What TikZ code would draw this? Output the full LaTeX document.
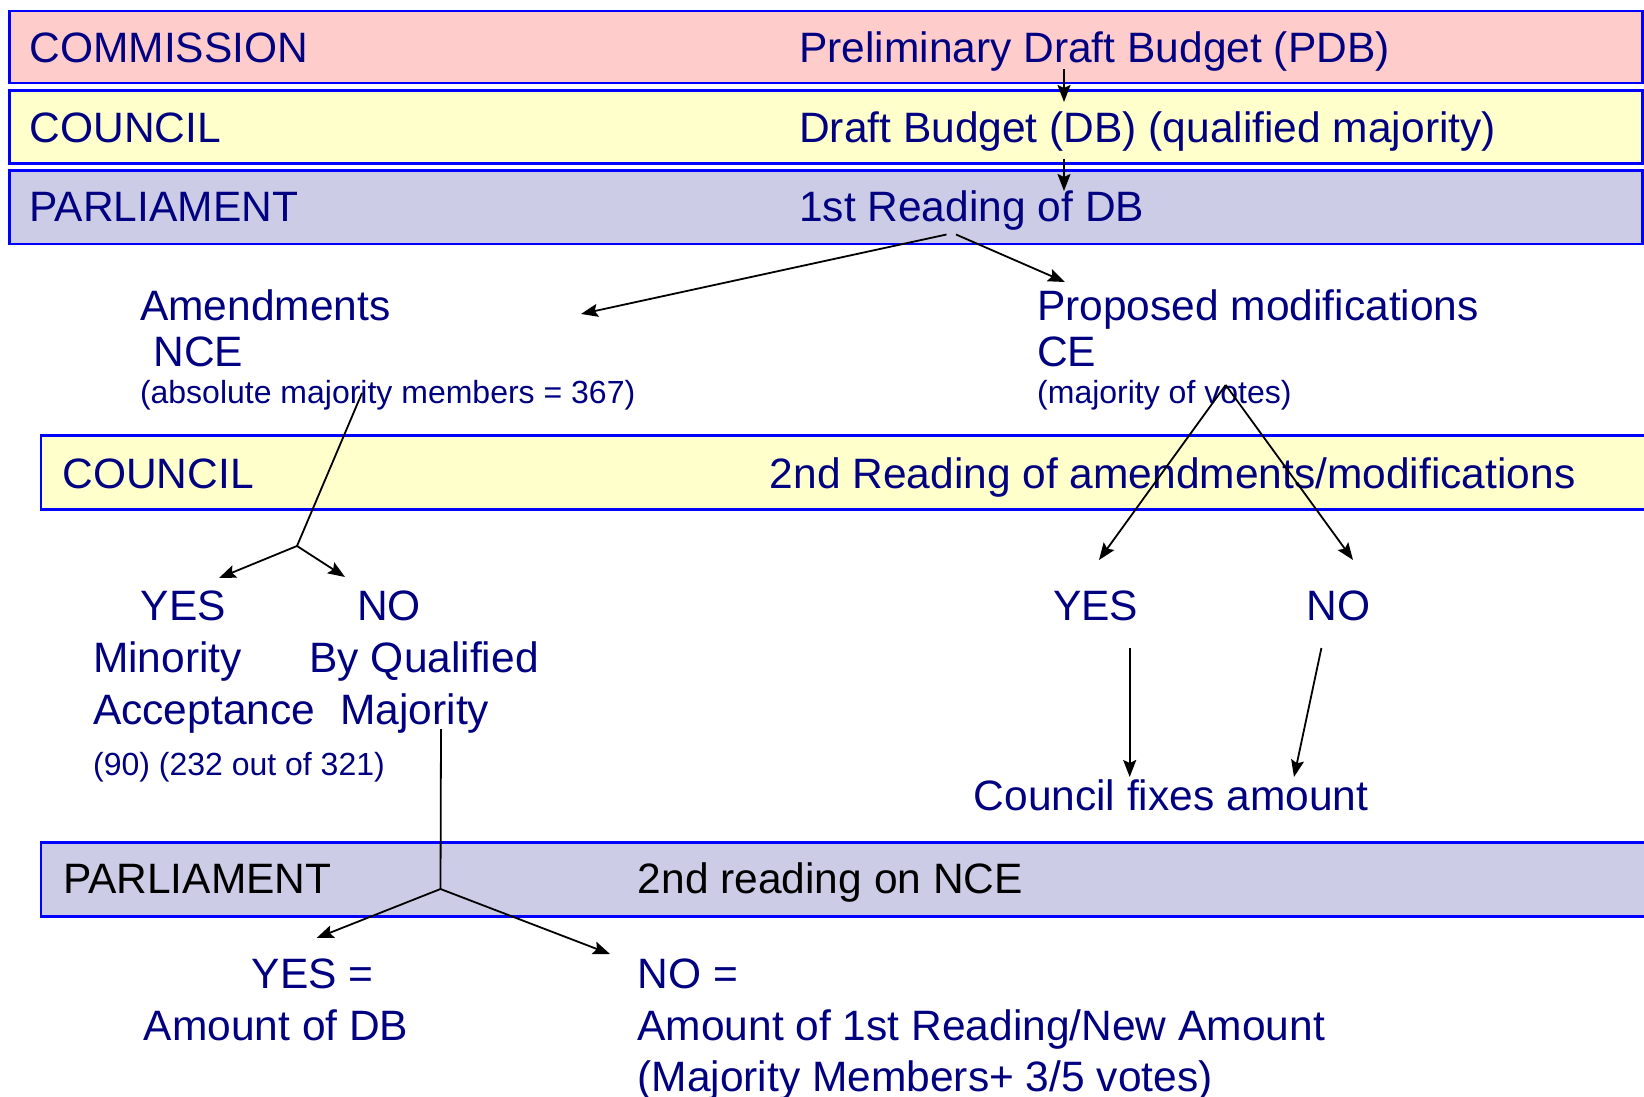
\documentclass[tikz,border=0pt]{standalone}
\usepackage{fontspec}
\setmainfont{Liberation Sans}
\usetikzlibrary{arrows.meta}
\definecolor{navytext}{RGB}{0,0,128}
\definecolor{lanepink}{RGB}{255,204,204}
\definecolor{laneyellow}{RGB}{255,255,204}
\definecolor{lanelilac}{RGB}{204,204,230}
\definecolor{laneedge}{RGB}{0,0,255}
\tikzset{
        lane/.style = {rectangle, draw=laneedge, line width=2.5pt,
            anchor=north west, inner sep=0pt},
        big_t/.style = {anchor=base west, inner sep=0pt, text=navytext,
            font=\fontsize{42.5}{51}\selectfont},
        small_t/.style = {big_t, font=\fontsize{32}{38}\selectfont},
        flow/.style = {line width=1.8pt,
            -{Stealth[length=17pt,width=13pt,inset=3pt]}},
        plain/.style = {line width=1.8pt}
    }
\begin{document}
\begin{tikzpicture}[x=1pt,y=-1pt]
\useasboundingbox (0,0) rectangle (1644,1097);
\clip (0,0) rectangle (1644,1097);

% lanes
\node [lane, fill=lanepink, minimum width=1633pt, minimum height=72pt] (commLane) at (8.4,10) {};
\node [lane, fill=laneyellow, minimum width=1633pt, minimum height=73pt] (councilLane) at (8.4,89.5) {};
\node [lane, fill=lanelilac, minimum width=1633pt, minimum height=73pt] (parlLane) at (8.4,169.5) {};
\node [lane, fill=laneyellow, minimum width=1640pt, minimum height=74pt] (councilLaneB) at (39.7,434) {};
\node [lane, fill=lanelilac, minimum width=1640pt, minimum height=74pt] (parlLaneB) at (39.8,841) {};

% first reading
\node [big_t] (commission) at (29.4,62.7) {COMMISSION};
\node [big_t] (pdb) at (799,62.7) {Preliminary Draft Budget (PDB)};
\node [big_t] (council1) at (29.4,142.7) {COUNCIL};
\node [big_t] (db) at (799,142.7) {Draft Budget (DB) (qualified majority)};
\node [big_t] (parl1) at (29.4,221.7) {PARLIAMENT};
\node [big_t] (reading1) at (799,221.7) {1st Reading of DB};

\node [big_t] (amend) at (139.8,320) {Amendments};
\node [big_t] (nce) at (153.4,366.7) {NCE};
\node [small_t] (absmaj) at (139.8,403.3) {(absolute majority members = 367)};
\node [big_t] (propmod) at (1037,320) {Proposed modifications};
\node [big_t] (ce) at (1037,366.7) {CE};
\node [small_t] (majvotes) at (1037,403.3) {(majority of votes)};

% second reading, council
\node [big_t] (council2) at (62.3,488) {COUNCIL};
\node [big_t] (reading2) at (769.6,488) {2nd Reading of amendments/modifications};
\node [big_t] (yesL) at (140.6,620.7) {YES};
\node [big_t] (noL) at (357,620.7) {NO};
\node [big_t] (minority) at (92.9,672.7) {Minority};
\node [big_t] (byqual) at (309.4,672.7) {By Qualified};
\node [big_t] (accept) at (92.9,724) {Acceptance};
\node [big_t] (qualmaj) at (340.2,724) {Majority};
\node [small_t] (counts) at (92.9,775) {(90) (232 out of 321)};
\node [big_t] (yesR) at (1052.8,620.7) {YES};
\node [big_t] (noR) at (1306.6,620.7) {NO};
\node [big_t] (fixes) at (973.5,810) {Council fixes amount};

% second reading, parliament
\node [big_t, text=black] (parl2) at (62.9,893.3) {PARLIAMENT};
\node [big_t, text=black] (reading3) at (637.6,893.3) {2nd reading on NCE};
\node [big_t] (yesDB) at (251.6,988.3) {YES =};
\node [big_t] (amountDB) at (143.6,1040) {Amount of DB};
\node [big_t] (noNew) at (637.3,988.3) {NO =};
\node [big_t] (amountNew) at (637.3,1040) {Amount of 1st Reading/New Amount};
\node [big_t] (majMembers) at (637.3,1091) {(Majority Members+ 3/5 votes)};

% connector ends
\coordinate (pdbOut) at (1064,69);
\coordinate (dbIn) at (1064,102);
\coordinate (dbOut) at (1064,159);
\coordinate (r1In) at (1064,191);
\coordinate (r1OutL) at (946.5,234.5);
\coordinate (amendIn) at (581,314);
\coordinate (r1OutR) at (956,234.5);
\coordinate (propIn) at (1065,282);
\coordinate (nceOut) at (362,393);
\coordinate (nceFork) at (297,546);
\coordinate (yesLIn) at (219,578);
\coordinate (noLIn) at (345,577);
\coordinate (ceFork) at (1225.7,385);
\coordinate (yesRIn) at (1099,560);
\coordinate (noRIn) at (1353,560);
\coordinate (yesROut) at (1129.7,648);
\coordinate (fixesInL) at (1129.7,777);
\coordinate (noROut) at (1321.4,648);
\coordinate (fixesInR) at (1294,777);
\coordinate (qmOut) at (441,729);
\coordinate (parlFork) at (440.5,889);
\coordinate (yesDBIn) at (316.6,938);
\coordinate (noNewIn) at (610,954);

% connectors
\draw [flow] (pdbOut) -- (dbIn);
\draw [flow] (dbOut) -- (r1In);
\draw [flow] (r1OutL) -- (amendIn);
\draw [flow] (r1OutR) -- (propIn);
\draw [plain] (nceOut) -- (nceFork);
\draw [flow] (nceFork) -- (yesLIn);
\draw [flow] (nceFork) -- (noLIn);
\draw [flow] (ceFork) -- (yesRIn);
\draw [flow] (ceFork) -- (noRIn);
\draw [flow] (yesROut) -- (fixesInL);
\draw [flow] (noROut) -- (fixesInR);
\draw [plain] (qmOut) -- (parlFork);
\draw [flow] (parlFork) -- (yesDBIn);
\draw [flow] (parlFork) -- (noNewIn);
\end{tikzpicture}
\end{document}
